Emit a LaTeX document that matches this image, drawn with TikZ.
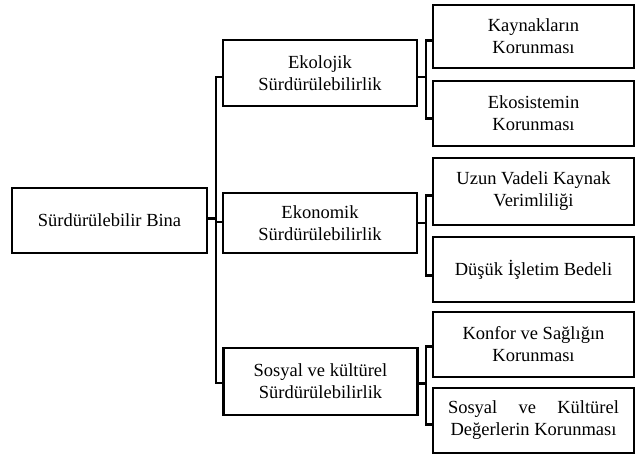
\documentclass[tikz,border=0pt]{standalone}
\usepackage{fontspec}
\setmainfont{Liberation Serif}
\begin{document}
\begin{tikzpicture}[x=1pt,y=-1pt,
  box/.style={draw=black,line width=2.6pt,fill=white,align=center,inner sep=0pt,
    font=\fontsize{18.5}{22}\selectfont},
  mainbox/.style={box,minimum width=195pt},
  midbox/.style={box,minimum width=194pt},
  leafbox/.style={box,minimum width=201pt},
  conn/.style={draw=black,line width=2.4pt}]
\useasboundingbox (0,0) rectangle (636,455);
% nodes
\node[mainbox,minimum height=65pt] (main) at (109.5,220.5) {Sürdürülebilir Bina};
\node[midbox,minimum height=66pt] (eko) at (320,73) {Ekolojik\\Sürdürülebilirlik};
\node[midbox,minimum height=60pt] (ekn) at (320,223) {Ekonomik\\Sürdürülebilirlik};
\node[midbox,minimum height=67pt] (sos) at (320.5,381.5) {Sosyal ve kültürel\\Sürdürülebilirlik};
\node[leafbox,minimum height=63pt] (k1) at (533.5,36.5) {Kaynakların\\Korunması};
\node[leafbox,minimum height=65pt] (k2) at (533.5,113.5) {Ekosistemin\\Korunması};
\node[leafbox,minimum height=67pt] (k3) at (533.5,191.5) {Uzun Vadeli Kaynak\\Verimliliği};
\node[leafbox,minimum height=65pt] (k4) at (533.5,269.5) {Düşük İşletim Bedeli};
\node[leafbox,minimum height=65pt] (k5) at (533.5,344.5) {Konfor ve Sağlığın\\Korunması};
\node[leafbox,minimum height=65pt] (k6) at (533.5,420.5) {\makebox[171pt][s]{Sosyal ve Kültürel}\\Değerlerin Korunması};
% connectors
\coordinate (tr) at (216,0);
\coordinate (br) at (426,0);
\draw[conn] ([yshift=2]main.east) -- ([yshift=2]main.east -| tr);
\draw[conn] ([yshift=-4]eko.west) -- ([yshift=-4]eko.west -| tr) -- ([yshift=-1.5]sos.west -| tr) -- ([yshift=-1.5]sos.west);
\draw[conn] ([yshift=1]ekn.west) -- ([yshift=1]ekn.west -| tr);
% right brackets
\draw[conn] ([yshift=-4]eko.east) -- ([yshift=-4]eko.east -| br);
\draw[conn] ([yshift=-4]k1.west) -- ([yshift=-4]k1.west -| br) -- ([yshift=-5]k2.west -| br) -- ([yshift=-5]k2.west);
\draw[conn] (ekn.east) -- (ekn.east -| br);
\draw[conn] ([yshift=-4]k3.west) -- ([yshift=-4]k3.west -| br) -- ([yshift=-6]k4.west -| br) -- ([yshift=-6]k4.west);
\draw[conn] ([yshift=-2]sos.east) -- ([yshift=-2]sos.east -| br);
\draw[conn] ([yshift=-2]k5.west) -- ([yshift=-2]k5.west -| br) -- ([yshift=-4]k6.west -| br) -- ([yshift=-4]k6.west);
\end{tikzpicture}
\end{document}
